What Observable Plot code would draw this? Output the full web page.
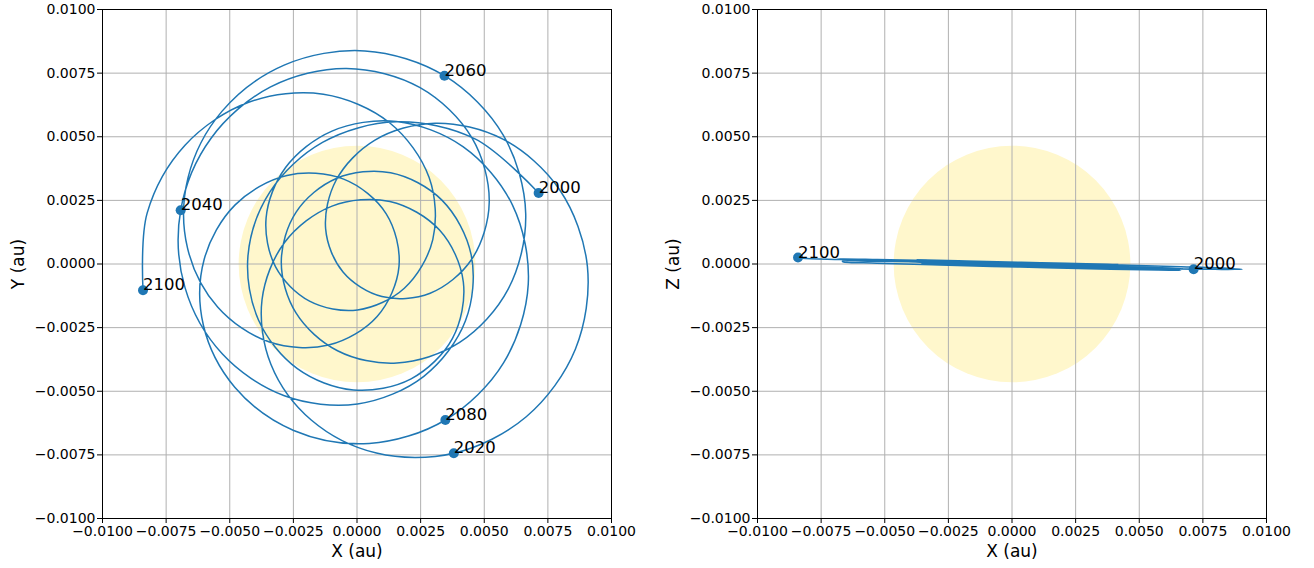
<!DOCTYPE html>
<html><head><meta charset="utf-8">
<script src="https://cdn.jsdelivr.net/npm/d3@7"></script>
<script src="https://cdn.jsdelivr.net/npm/@observablehq/plot@0.6"></script>
<style>
body{margin:0;background:#fff;font-family:"DejaVu Sans",sans-serif}
#wrap{position:relative;width:1314px;height:568px;overflow:hidden}
#wrap svg{position:absolute;top:0}
</style></head>
<body><div id="wrap"></div>
<script>
// Position of the solar-system barycentre relative to the Sun (au), one sample per year
const years = [2000,2001,2002,2003,2004,2005,2006,2007,2008,2009,2010,2011,2012,2013,2014,2015,2016,2017,2018,2019,2020,2021,2022,2023,2024,2025,2026,2027,2028,2029,2030,2031,2032,2033,2034,2035,2036,2037,2038,2039,2040,2041,2042,2043,2044,2045,2046,2047,2048,2049,2050,2051,2052,2053,2054,2055,2056,2057,2058,2059,2060,2061,2062,2063,2064,2065,2066,2067,2068,2069,2070,2071,2072,2073,2074,2075,2076,2077,2078,2079,2080,2081,2082,2083,2084,2085,2086,2087,2088,2089,2090,2091,2092,2093,2094,2095,2096,2097,2098,2099,2100];
const xs = [0.007137,0.004636,0.001542,-0.001356,-0.003421,-0.004286,-0.003867,-0.002344,-0.000140,0.002126,
  0.003752,0.004178,0.003242,0.001292,-0.000981,-0.002839,-0.003732,-0.003384,-0.001798,0.000763,
  0.003804,0.006650,0.008580,0.009053,0.007968,0.005732,0.003067,0.000705,-0.000816,-0.001232,
  -0.000550,0.000978,0.002875,0.004501,0.005196,0.004517,0.002479,-0.000414,-0.003395,-0.005734,
  -0.006928,-0.006761,-0.005296,-0.002854,0.000021,0.002626,0.004262,0.004487,0.003336,0.001323,
  -0.000812,-0.002392,-0.002975,-0.002397,-0.000766,0.001565,0.004033,0.005940,0.006629,0.005746,
  0.003437,0.000309,-0.002840,-0.005308,-0.006639,-0.006661,-0.005477,-0.003440,-0.001118,0.000791,
  0.001650,0.001148,-0.000524,-0.002754,-0.004788,-0.006004,-0.006036,-0.004803,-0.002489,0.000478,
  0.003472,0.005764,0.006729,0.006110,0.004163,0.001545,-0.000983,-0.002806,-0.003571,-0.003199,
  -0.001865,0.000020,0.001860,0.002978,0.002834,0.001280,-0.001321,-0.004256,-0.006758,-0.008243,
  -0.008408];
const ys = [0.002793,0.004916,0.005586,0.004777,0.002832,0.000299,-0.002208,-0.004109,-0.004950,-0.004511,
  -0.002921,-0.000707,0.001333,0.002456,0.002276,0.000856,-0.001406,-0.003937,-0.006129,-0.007430,
  -0.007437,-0.006004,-0.003350,-0.000096,0.002907,0.004905,0.005533,0.004867,0.003301,0.001381,
  -0.000317,-0.001280,-0.001148,0.000177,0.002426,0.004953,0.006929,0.007683,0.006960,0.004943,
  0.002113,-0.000920,-0.003531,-0.005179,-0.005499,-0.004412,-0.002232,0.000355,0.002509,0.003584,
  0.003361,0.002039,0.000085,-0.001922,-0.003408,-0.003891,-0.003081,-0.000989,0.001978,0.005061,
  0.007398,0.008374,0.007824,0.005997,0.003396,0.000633,-0.001689,-0.003065,-0.003186,-0.002060,
  -0.000094,0.001971,0.003334,0.003477,0.002323,0.000185,-0.002406,-0.004840,-0.006541,-0.007050,
  -0.006129,-0.003875,-0.000790,0.002313,0.004612,0.005601,0.005223,0.003791,0.001819,-0.000113,
  -0.001461,-0.001806,-0.000951,0.000960,0.003394,0.005549,0.006668,0.006356,0.004668,0.002010,
  -0.001033];
const zs = [-0.000206,-0.000155,-0.000082,-0.000005,0.000061,0.000103,0.000117,0.000104,0.000070,0.000029,
  -0.000005,-0.000016,0.000001,0.000042,0.000093,0.000137,0.000161,0.000156,0.000120,0.000057,
  -0.000023,-0.000106,-0.000173,-0.000210,-0.000210,-0.000179,-0.000132,-0.000083,-0.000047,-0.000031,
  -0.000038,-0.000064,-0.000101,-0.000134,-0.000149,-0.000133,-0.000084,-0.000011,0.000069,0.000139,
  0.000184,0.000197,0.000178,0.000129,0.000063,-0.000005,-0.000058,-0.000083,-0.000078,-0.000049,
  -0.000014,0.000014,0.000022,0.000005,-0.000036,-0.000096,-0.000162,-0.000218,-0.000248,-0.000240,
  -0.000194,-0.000122,-0.000040,0.000034,0.000087,0.000113,0.000109,0.000082,0.000042,0.000005,
  -0.000015,-0.000007,0.000027,0.000077,0.000125,0.000157,0.000163,0.000137,0.000084,0.000009,
  -0.000072,-0.000144,-0.000189,-0.000198,-0.000172,-0.000124,-0.000069,-0.000024,0.000003,0.000007,
  -0.000010,-0.000041,-0.000074,-0.000093,-0.000086,-0.000046,0.000022,0.000102,0.000176,0.000230,
  0.000253];

const labelYearsXY = [2000, 2020, 2040, 2060, 2080, 2100];
const labelYearsXZ = [2000, 2100];
const tickValues = [-0.01, -0.0075, -0.005, -0.0025, 0, 0.0025, 0.005, 0.0075, 0.01];
const axisDomain = [-0.01, 0.01];
const sun = {x: 0, y: 0, z: 0};
const sunRadius = 0.00465; // au
const xLabel = "X (au)";
const yLabels = {y: "Y (au)", z: "Z (au)"};

const data = years.map((year, i) => ({year, x: xs[i], y: ys[i], z: zs[i]}));
const fmt = d => (d < 0 ? "\u2212" : "") + Math.abs(d).toFixed(4);
const W = 657, H = 568, MT = 9, MB = 50;
const blue = "#1f77b4";

function panel(yKey, marginLeft, marginRight, labelYears) {
  const pxPerAu = (W - marginLeft - marginRight) / (axisDomain[1] - axisDomain[0]);
  const marked = data.filter(d => labelYears.includes(d.year));
  return Plot.plot({
    width: W, height: H, marginLeft, marginRight, marginTop: MT, marginBottom: MB,
    style: {fontFamily: "DejaVu Sans", fontSize: "14px", background: "transparent", color: "black", overflow: "visible"},
    x: {domain: axisDomain, label: null},
    y: {domain: axisDomain, label: null},
    marks: [
      Plot.dot([sun], {x: "x", y: yKey, r: sunRadius * pxPerAu, fill: "#fff7cc", stroke: "none"}),
      Plot.gridX(tickValues, {stroke: "#b0b0b0", strokeOpacity: 1, strokeWidth: 1}),
      Plot.gridY(tickValues, {stroke: "#b0b0b0", strokeOpacity: 1, strokeWidth: 1}),
      Plot.axisX(tickValues, {tickFormat: fmt, tickSize: 5, tickPadding: 3, label: null}),
      Plot.axisY(tickValues, {tickFormat: fmt, tickSize: 5, tickPadding: 2, label: null}),
      Plot.dot(marked, {x: "x", y: yKey, r: 5, fill: blue, stroke: "none"}),
      Plot.line(data, {x: "x", y: yKey, curve: "catmull-rom", stroke: blue, strokeWidth: 1.5}),
      Plot.text(marked, {x: "x", y: yKey, text: d => String(d.year), textAnchor: "start", lineAnchor: "bottom", fontSize: 16.5, fill: "black"}),
      Plot.frame({stroke: "black", strokeWidth: 1}),
      Plot.text([yLabels[yKey]], {text: d => d, frameAnchor: "left", dx: -84, rotate: -90, textAnchor: "middle", lineAnchor: "middle", fontSize: 17, fill: "black"}),
      Plot.text([xLabel], {text: d => d, frameAnchor: "bottom", dy: 33, textAnchor: "middle", lineAnchor: "middle", fontSize: 17, fill: "black"})
    ]
  });
}

const wrap = document.getElementById("wrap");
const left = panel("y", 102, 46, labelYearsXY);
left.style.left = "0px";
const right = panel("z", 100, 48, labelYearsXZ);
right.style.left = "657px";
wrap.append(left, right);
</script>
</body></html>
